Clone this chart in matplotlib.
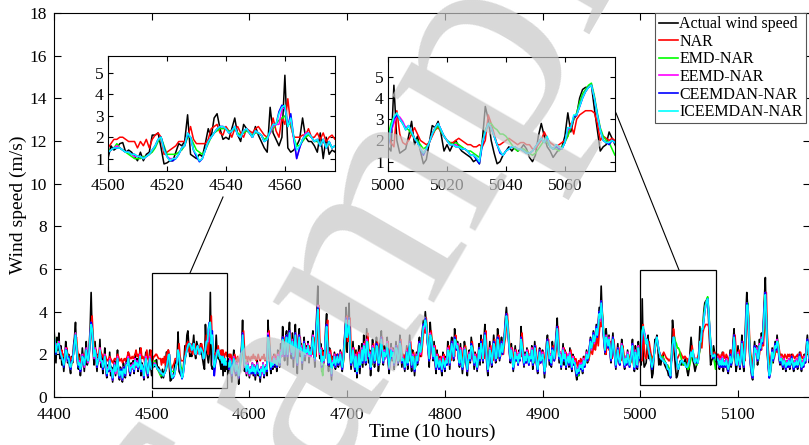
import matplotlib
matplotlib.use("Agg")
import matplotlib.pyplot as plt
import numpy as np
from matplotlib.patches import Rectangle
from matplotlib.lines import Line2D

plt.rcParams["font.family"] = ["Liberation Serif", "DejaVu Serif"]

W, H = 809, 445
START = 4400

# Wind speed (m/s), one value per 10-hour step from t = 4400
actual_speed = [
    3.2, 2.4, 1.6, 2.8, 2.2, 3.0, 1.8, 2.4, 1.5, 2.0, 1.2, 1.8, 2.6, 2.2, 1.6, 2.0, 1.4, 1.1, 1.9, 1.6,
    2.4, 2.8, 3.5, 2.2, 1.6, 1.3, 2.0, 1.0, 1.6, 2.3, 1.8, 1.2, 2.0, 2.6, 1.5, 1.7, 2.4, 3.2, 4.9, 3.0,
    2.2, 1.5, 2.6, 1.8, 1.2, 2.0, 1.7, 2.7, 1.4, 1.9, 1.1, 1.6, 2.3, 1.3, 0.9, 1.5, 1.2, 2.1, 1.0, 1.4,
    0.7, 1.3, 1.7, 1.0, 1.5, 2.2, 1.1, 0.8, 1.4, 1.2, 0.7, 1.6, 1.3, 0.9, 1.8, 1.5, 2.1, 1.2, 1.0, 1.6,
    1.3, 1.7, 1.1, 2.0, 1.4, 1.8, 1.2, 1.5, 2.3, 1.0, 1.6, 1.3, 0.8, 1.7, 2.1, 1.2, 0.9, 1.5, 2.2, 1.4,
    1.0, 1.6, 1.4, 1.5, 1.7, 1.75, 1.3, 1.4, 1.3, 1.1, 0.9, 1.3, 0.9, 1.2, 1.3, 2.1, 2.1, 2.2, 1.5, 0.75,
    0.8, 0.9, 0.9, 1.3, 1.7, 1.6, 1.8, 3.05, 1.2, 1.1, 1.0, 1.2, 1.1, 1.7, 2.4, 2.0, 2.9, 3.1, 2.4, 1.9,
    2.0, 1.9, 2.4, 2.9, 2.1, 1.8, 2.6, 2.4, 2.2, 2.0, 2.5, 2.1, 1.8, 1.5, 1.3, 3.4, 2.2, 1.9, 1.6, 2.0,
    4.9, 1.5, 1.3, 1.4, 1.6, 1.9, 2.9, 2.0, 1.8, 1.8, 1.6, 1.3, 2.2, 1.0, 2.0, 1.2, 1.4, 1.3,
    1.8, 1.1, 2.0, 1.4, 0.7, 1.6, 2.2, 1.3, 1.0, 1.7, 1.2, 0.6, 1.5, 1.9, 2.4, 3.6, 1.8, 1.2, 1.5, 1.0, 1.7, 1.3,
    0.9, 1.4, 1.1, 1.6, 1.0, 1.5, 0.8, 1.3, 1.7, 1.0, 1.2, 0.7, 1.4, 1.1, 1.6, 0.9, 1.3, 1.5, 1.0, 3.6,
    2.4, 1.5, 1.1, 1.7, 1.3, 2.0, 1.4, 1.8, 1.2, 2.2, 1.6, 1.4, 2.5, 1.9, 3.3, 2.4, 1.7, 2.8, 3.1, 1.5,
    2.9, 3.5, 2.2, 1.8, 3.0, 1.4, 2.6, 3.4, 2.0, 1.1, 2.7, 3.2, 1.9, 2.5, 1.3, 2.2, 2.8, 1.7, 2.4, 2.0,
    2.6, 1.6, 2.3, 1.9, 2.7, 3.1, 2.1, 1.4, 3.0, 4.0, 5.2, 2.6, 1.8, 2.5, 1.2, 2.2, 1.6, 2.0, 3.2, 3.9,
    1.8, 1.2, 2.3, 1.6, 0.8, 1.9, 1.5, 2.1, 1.3, 1.8, 2.0, 1.4, 1.7, 2.2, 1.5, 1.2, 1.9, 2.6, 3.2, 4.2,
    2.1, 3.5, 4.4, 2.0, 1.3, 1.8, 2.6, 1.6, 1.2, 2.2, 0.9, 1.6, 2.4, 1.1, 1.8, 2.5, 1.4, 2.9, 2.0, 1.5,
    3.2, 2.4, 1.6, 2.2, 1.0, 1.8, 2.7, 2.2, 1.4, 1.9, 2.8, 2.3, 1.2, 1.7, 2.6, 3.1, 2.0, 1.5, 2.4, 1.8,
    2.2, 2.8, 1.6, 1.1, 2.0, 2.5, 1.7, 2.3, 1.3, 1.9, 2.6, 2.1, 1.5, 1.8, 2.9, 2.2, 1.4, 2.0, 1.6, 1.2,
    1.8, 2.4, 1.3, 2.0, 2.9, 1.7, 1.2, 2.2, 1.8, 1.0, 1.6, 2.1, 1.5, 2.4, 2.8, 1.9, 2.5, 3.1, 3.6, 3.3,
    4.0, 3.4, 2.6, 2.2, 1.4, 3.5, 2.8, 2.3, 1.7, 2.6, 1.6, 1.1, 2.2, 1.5, 1.3, 1.9, 1.4, 1.0, 2.1, 1.6,
    1.2, 1.9, 1.5, 2.6, 2.1, 1.3, 2.4, 2.8, 2.2, 1.7, 3.2, 2.7, 2.3, 2.6, 1.8, 1.4, 2.5, 1.7, 1.1, 1.8,
    2.6, 2.3, 1.5, 1.0, 1.9, 2.2, 1.6, 2.8, 2.4, 2.0, 1.3, 2.1, 1.7, 1.2, 1.8, 2.5, 1.5, 2.9, 2.1, 1.6,
    2.7, 3.4, 2.3, 1.5, 1.0, 1.8, 2.6, 1.9, 1.4, 2.2, 2.9, 2.4, 1.6, 2.0, 3.2, 2.5, 1.7, 2.3, 2.8, 2.0,
    2.6, 3.0, 3.7, 4.2, 3.5, 2.8, 2.1, 1.6, 2.5, 1.9, 1.2, 1.8, 2.4, 1.7, 2.0, 1.5, 2.2, 1.8, 3.3, 2.4,
    1.9, 1.4, 2.1, 1.6, 2.3, 1.8, 1.5, 2.0, 1.7, 2.4, 1.3, 1.8, 2.6, 2.0, 1.5, 1.1, 1.9, 2.3, 1.6, 1.8,
    2.2, 1.6, 0.9, 1.7, 2.5, 2.9, 2.2, 1.5, 2.0, 1.4, 2.6, 2.1, 1.7, 2.4, 3.0, 3.7, 2.3, 1.6, 2.1, 1.3,
    1.9, 2.5, 1.5, 2.2, 1.3, 1.8, 2.0, 1.4, 2.3, 1.6, 1.2, 2.0, 1.5, 1.7, 1.1, 0.8, 1.4, 1.0, 1.6, 1.3,
    1.5, 1.1, 1.9, 1.4, 1.7, 2.2, 1.6, 1.9, 2.3, 2.8, 2.2, 2.6, 3.1, 2.4, 2.9, 3.4, 2.7, 3.5, 4.2, 3.6,
    5.2, 3.8, 3.0, 2.5, 2.0, 3.2, 2.7, 2.3, 2.9, 2.1, 1.6, 2.4, 3.0, 2.2, 1.8, 1.3, 1.9, 2.5, 1.7, 1.5,
    2.0, 2.7, 2.3, 1.6, 1.3, 1.9, 1.5, 2.2, 1.8, 1.4, 1.7, 2.1, 2.7, 1.6, 1.2, 2.4, 1.9, 1.3, 2.6, 2.0,
    1.7, 1.5, 4.6, 2.0, 1.4, 1.5, 1.6, 2.2, 2.9, 1.8, 2.2, 1.5, 0.9, 1.1, 1.9, 2.7, 2.6, 2.9, 2.3, 1.5,
    1.8, 1.5, 1.8, 2.0, 1.7, 1.5, 1.4, 1.3, 1.2, 1.0, 1.1, 0.9, 2.0, 3.6, 3.0, 2.0, 1.4, 0.9, 1.0, 1.3,
    1.5, 1.7, 1.5, 1.7, 1.5, 1.6, 1.8, 1.6, 1.2, 1.0, 1.3, 2.2, 2.8, 2.2, 1.7, 1.5, 1.2, 1.4, 1.6, 1.7,
    2.2, 3.3, 2.4, 3.0, 3.2, 4.0, 4.4, 4.5, 4.5, 4.6, 3.5, 2.5, 1.5, 1.7, 1.8, 2.4, 2.1, 1.8,
    1.5, 2.0, 1.6, 1.3, 1.8, 1.4, 2.1, 1.2, 1.7, 1.5, 1.9, 1.3, 1.1, 1.6, 2.2, 1.4, 1.8, 2.6, 3.2, 1.9, 1.2, 1.5,
    2.4, 1.7, 1.3, 2.0, 2.9, 1.6, 1.2, 2.5, 3.8, 4.9, 4.2, 2.8, 1.9, 1.4, 1.0, 0.8, 2.0, 2.6, 2.1, 2.4,
    1.5, 1.9, 2.7, 2.2, 3.0, 2.5, 3.6, 4.6, 5.6, 3.2, 2.0, 1.4, 0.9, 1.2, 1.8, 2.3, 1.6, 2.1, 2.6, 2.2,
    2.9, 2.4, 1.8, 1.5, 2.0, 1.6, 1.3, 1.9, 1.5, 1.2, 1.7, 1.4, 1.8, 1.3, 1.6, 2.0, 1.5, 1.2, 1.7, 1.4,
    1.8, 1.3, 1.6, 2.1, 1.5, 1.2, 1.7, 1.4, 2.0, 1.6, 2.4, 2.9, 2.2, 1.6, 1.9, 1.5,
]

nar = [
    2.7, 2.6, 2.2, 2.3, 2.5, 2.4, 2.3, 2.1, 2.2, 1.9, 2.0, 1.8, 2.1, 2.3, 2.0, 1.9, 1.9, 1.7, 1.8, 1.9,
    2.0, 2.3, 2.7, 2.8, 2.2, 1.9, 1.8, 1.7, 1.6, 1.9, 2.0, 1.8, 1.9, 2.2, 2.1, 1.9, 2.1, 2.6, 3.3, 3.8,
    2.9, 2.3, 2.3, 2.2, 1.9, 1.9, 2.0, 2.3, 2.1, 2.0, 1.9, 1.8, 2.0, 1.9, 1.7, 1.7, 1.8, 1.9, 1.8, 1.7,
    1.6, 1.7, 1.8, 1.8, 1.7, 2.0, 1.9, 1.7, 1.7, 1.8, 1.6, 1.7, 1.8, 1.7, 1.8, 1.9, 2.1, 2.0, 1.8, 1.8,
    1.9, 1.8, 1.9, 2.0, 2.2, 1.9, 2.0, 1.8, 2.1, 2.3, 1.8, 1.9, 1.8, 1.6, 1.9, 2.2, 1.8, 1.7, 1.9, 2.2,
    1.5, 1.7, 1.9, 1.9, 2.0, 2.0, 1.9, 1.8, 1.8, 1.8, 1.5, 1.8, 1.6, 1.9, 1.5, 1.9, 2.1, 2.2, 2.0, 1.2,
    1.3, 1.4, 1.5, 1.6, 1.8, 1.8, 1.8, 2.0, 2.5, 1.9, 1.7, 1.7, 1.7, 1.7, 1.9, 2.4, 2.5, 2.6, 2.2, 2.1,
    2.5, 2.3, 2.0, 2.4, 2.5, 2.2, 2.0, 2.4, 2.3, 2.2, 2.4, 2.5, 2.3, 2.1, 2.0, 2.2, 2.9, 2.3, 2.0, 2.9,
    2.6, 3.8, 2.5, 2.0, 2.0, 2.0, 2.1, 2.1, 2.4, 2.0, 2.0, 2.2, 1.9, 2.2, 1.8, 2.0, 2.1, 1.9,
    1.9, 2.0, 1.8, 2.0, 1.8, 1.6, 1.8, 2.0, 1.8, 1.7, 1.9, 1.7, 1.6, 1.8, 2.0, 2.3, 3.1, 2.2, 1.8, 1.9, 1.7, 1.9,
    1.8, 1.7, 1.9, 1.8, 2.0, 1.8, 1.9, 1.7, 1.8, 2.0, 1.8, 1.7, 1.8, 1.9, 1.8, 2.0, 1.7, 1.8, 1.9, 1.8,
    3.1, 2.3, 1.8, 1.7, 1.9, 1.8, 2.0, 1.8, 1.9, 1.8, 2.1, 1.8, 1.9, 2.3, 2.2, 2.8, 2.3, 2.1, 2.6, 2.8,
    2.1, 2.7, 3.0, 2.3, 2.1, 2.6, 1.9, 2.3, 2.9, 2.2, 1.8, 2.4, 2.8, 2.1, 2.3, 1.8, 2.1, 2.5, 2.0, 2.3,
    2.1, 2.4, 1.9, 2.2, 2.0, 2.4, 2.8, 2.1, 1.9, 2.7, 3.8, 4.3, 2.6, 2.1, 2.3, 1.7, 2.1, 1.8, 2.1, 3.0,
    3.6, 2.1, 1.7, 2.2, 1.8, 1.5, 1.9, 1.8, 2.0, 1.8, 1.9, 2.0, 1.8, 1.9, 2.1, 1.8, 1.6, 2.0, 2.5, 3.0,
    3.8, 2.6, 3.4, 3.7, 2.2, 1.8, 1.9, 2.3, 1.8, 1.7, 2.1, 1.5, 1.8, 2.2, 1.6, 1.9, 2.3, 1.8, 2.6, 2.0,
    1.8, 3.0, 2.3, 1.9, 2.1, 1.5, 1.9, 2.5, 2.0, 1.7, 2.0, 2.6, 2.1, 1.6, 1.9, 2.5, 2.8, 2.0, 1.8, 2.2,
    1.9, 2.1, 2.6, 1.8, 1.6, 2.0, 2.3, 1.8, 2.1, 1.7, 2.0, 2.4, 2.0, 1.7, 1.9, 2.7, 2.0, 1.7, 2.0, 1.8,
    1.6, 1.9, 2.3, 1.7, 2.0, 2.6, 1.8, 1.6, 2.1, 1.8, 1.5, 1.8, 2.0, 1.7, 2.3, 2.6, 1.9, 2.4, 2.9, 3.3,
    3.0, 3.7, 3.1, 2.5, 2.1, 1.8, 3.1, 2.6, 2.1, 1.9, 2.4, 1.8, 1.6, 2.0, 1.7, 1.6, 1.9, 1.6, 1.5, 2.0,
    1.7, 1.6, 1.9, 1.7, 2.4, 2.0, 1.7, 2.3, 2.6, 2.0, 1.9, 2.9, 2.5, 2.2, 2.4, 1.9, 1.7, 2.3, 1.8, 1.6,
    1.9, 2.4, 2.1, 1.7, 1.5, 1.9, 2.1, 1.8, 2.6, 2.2, 2.0, 1.7, 2.0, 1.8, 1.6, 1.9, 2.3, 1.8, 2.7, 2.0,
    1.8, 2.5, 3.1, 2.2, 1.7, 1.5, 1.9, 2.4, 1.9, 1.7, 2.1, 2.7, 2.2, 1.8, 2.0, 2.9, 2.3, 1.9, 2.2, 2.6,
    2.0, 2.5, 2.8, 3.4, 3.9, 3.2, 2.6, 2.1, 1.8, 2.3, 1.9, 1.6, 1.8, 2.2, 1.8, 1.9, 1.7, 2.1, 1.9, 3.0,
    2.3, 1.9, 1.7, 2.0, 1.8, 2.2, 1.8, 1.7, 2.0, 1.8, 2.3, 1.6, 1.8, 2.4, 1.9, 1.7, 1.5, 1.9, 2.2, 1.7,
    1.9, 2.1, 1.7, 1.4, 1.8, 2.4, 2.7, 2.1, 1.8, 2.0, 1.7, 2.4, 2.0, 1.8, 2.3, 2.8, 3.3, 2.2, 1.8, 2.0,
    1.6, 1.9, 2.3, 1.7, 2.1, 1.6, 1.9, 1.9, 1.7, 2.2, 1.7, 1.6, 1.9, 1.7, 1.8, 1.6, 1.4, 1.7, 1.5, 1.8,
    1.6, 1.7, 1.5, 1.9, 1.6, 1.8, 2.1, 1.7, 1.9, 2.2, 2.1, 2.0, 2.3, 2.8, 2.2, 2.5, 3.0, 2.4, 3.0, 3.5,
    3.3, 4.1, 3.4, 2.8, 2.3, 2.0, 2.8, 2.5, 2.2, 2.6, 2.0, 1.8, 2.2, 2.7, 2.1, 1.8, 1.7, 1.9, 2.3, 1.8,
    1.7, 1.9, 2.4, 2.1, 1.7, 1.6, 1.9, 1.7, 2.0, 1.8, 1.6, 1.8, 2.0, 2.4, 1.7, 1.6, 2.1, 1.8, 1.6, 2.4,
    2.4, 1.9, 1.7, 3.4, 2.3, 1.9, 1.8, 2.0, 2.3, 2.6, 2.3, 2.0, 1.9, 1.8, 1.9, 2.2, 2.5, 2.6, 2.4, 2.2,
    2.0, 1.9, 1.9, 2.0, 2.1, 2.0, 1.9, 1.8, 1.8, 1.7, 1.7, 1.8, 1.7, 2.0, 3.2, 2.8, 2.3, 1.8, 1.8, 1.9,
    2.0, 2.1, 2.0, 1.9, 1.8, 1.9, 1.9, 1.8, 1.8, 1.6, 1.6, 1.8, 2.0, 2.4, 2.1, 1.9, 1.8, 1.7, 1.8, 1.9,
    2.0, 2.2, 2.8, 2.3, 3.0, 3.2, 3.3, 3.4, 3.4, 3.4, 3.3, 2.8, 2.0, 2.2, 2.1, 2.0, 2.1, 2.0,
    1.9, 1.8, 2.0, 1.9, 1.8, 2.0, 1.8, 2.1, 1.9, 1.8, 2.0, 1.9, 1.8, 1.7, 1.9, 2.2, 1.8, 2.0, 2.4, 2.9, 2.2, 1.8,
    1.9, 2.2, 1.9, 1.8, 2.0, 2.6, 1.9, 1.7, 2.3, 3.3, 4.3, 3.8, 2.6, 2.0, 1.8, 1.6, 1.5, 2.0, 2.4, 2.1,
    2.2, 1.8, 2.0, 2.5, 2.2, 2.7, 2.4, 3.2, 4.1, 4.9, 3.0, 2.2, 1.8, 1.5, 1.6, 1.9, 2.2, 1.8, 2.0, 2.4,
    2.1, 2.6, 2.3, 2.0, 1.9, 2.0, 1.9, 1.8, 2.0, 1.9, 1.8, 2.0, 1.9, 2.0, 1.8, 1.9, 2.0, 1.9, 1.8, 1.9,
    1.9, 2.0, 1.8, 1.9, 2.1, 1.9, 1.8, 1.9, 1.8, 2.0, 1.9, 2.2, 2.4, 2.0, 1.9, 1.8,
]

emd_nar = [
    2.9, 2.6, 2.0, 2.3, 2.6, 2.4, 2.1, 2.1, 1.8, 1.7, 1.6, 1.7, 2.1, 2.2, 1.9, 1.7, 1.6, 1.3, 1.5, 1.8,
    2.1, 2.4, 3.0, 2.5, 1.9, 1.4, 1.5, 1.4, 1.4, 1.8, 1.9, 1.6, 1.7, 2.1, 1.9, 1.6, 2.0, 2.7, 3.3, 3.3,
    2.6, 2.0, 2.1, 2.0, 1.6, 1.6, 1.9, 2.1, 1.8, 1.6, 1.5, 1.4, 1.8, 1.6, 1.2, 1.2, 1.4, 1.6, 1.4, 1.2,
    1.0, 1.1, 1.4, 1.3, 1.3, 1.7, 1.4, 1.1, 1.1, 1.3, 1.0, 1.2, 1.4, 1.1, 1.4, 1.6, 1.7, 1.5, 1.2, 1.3,
    1.5, 1.4, 1.4, 1.6, 1.6, 1.5, 1.5, 1.4, 1.8, 1.4, 1.4, 1.4, 1.1, 1.4, 1.7, 1.5, 1.2, 1.3, 1.7, 1.6,
    1.4, 1.4, 1.5, 1.7, 1.5, 1.4, 1.3, 1.2, 1.1, 1.0, 1.0, 1.0, 1.1, 1.1, 1.2, 1.3, 1.5, 1.8, 2.0, 1.6,
    1.2, 1.2, 1.2, 1.2, 1.3, 1.4, 1.6, 2.0, 2.0, 1.7, 1.4, 1.3, 1.2, 1.4, 1.7, 2.0, 2.2, 2.3, 2.4, 2.4,
    2.4, 2.3, 2.3, 2.4, 2.2, 2.1, 2.2, 2.3, 2.2, 2.1, 2.2, 2.2, 2.1, 1.9, 2.0, 2.2, 2.4, 2.6, 2.8, 2.9,
    3.0, 2.6, 2.6, 2.0, 1.6, 1.6, 1.8, 2.0, 2.1, 2.0, 1.8, 1.8, 1.7, 1.8, 1.6, 1.7, 1.5, 1.6,
    1.5, 1.5, 1.6, 1.5, 1.2, 1.3, 1.7, 1.6, 1.3, 1.4, 1.4, 1.1, 1.2, 1.6, 2.0, 2.7, 2.4, 1.7, 1.4, 1.3, 1.4, 1.4,
    1.2, 1.2, 1.2, 1.4, 1.3, 1.3, 1.2, 1.2, 1.4, 1.3, 1.1, 1.0, 1.2, 1.3, 1.4, 1.2, 1.2, 1.4, 1.3, 2.5,
    2.7, 2.1, 1.3, 1.5, 1.6, 1.7, 1.7, 1.6, 1.5, 1.8, 1.8, 1.5, 2.0, 2.1, 2.5, 2.6, 2.1, 2.3, 2.8, 2.2,
    2.3, 2.9, 2.7, 2.2, 2.4, 2.1, 2.1, 2.7, 2.5, 1.7, 2.1, 2.7, 2.4, 2.2, 1.8, 1.9, 2.4, 2.2, 2.1, 2.2,
    2.3, 2.1, 2.0, 2.1, 2.3, 2.7, 2.5, 1.9, 2.4, 3.3, 4.2, 3.3, 2.2, 2.0, 1.3, 1.0, 1.6, 1.9, 2.6, 3.3,
    2.5, 1.8, 1.8, 1.8, 1.2, 1.4, 1.6, 1.8, 1.6, 1.6, 1.9, 1.7, 1.6, 1.9, 1.8, 1.4, 1.6, 2.1, 2.8, 3.5,
    3.0, 3.0, 3.5, 2.7, 1.8, 1.6, 2.1, 1.9, 1.5, 1.8, 1.3, 1.3, 1.9, 1.6, 1.5, 2.1, 1.8, 2.3, 2.3, 1.8,
    2.5, 2.6, 2.0, 1.9, 1.5, 1.5, 2.2, 2.3, 1.8, 1.7, 2.3, 2.4, 1.7, 1.5, 2.1, 2.6, 2.3, 1.8, 2.0, 2.0,
    1.9, 2.4, 2.0, 1.5, 1.7, 2.1, 2.0, 2.0, 1.7, 1.7, 2.2, 2.3, 1.8, 1.7, 2.4, 2.4, 1.8, 1.7, 1.8, 1.5,
    1.5, 2.0, 1.7, 1.7, 2.4, 2.1, 1.6, 1.8, 1.9, 1.4, 1.4, 1.8, 1.8, 2.0, 2.4, 2.2, 2.2, 2.7, 3.2, 3.4,
    3.7, 3.5, 2.9, 2.4, 1.9, 2.7, 2.9, 2.5, 2.0, 2.2, 1.9, 1.5, 1.8, 1.7, 1.4, 1.6, 1.6, 1.4, 1.7, 1.7,
    1.5, 1.6, 1.7, 2.1, 2.2, 1.7, 2.0, 2.4, 2.3, 2.0, 2.6, 2.7, 2.4, 2.3, 2.0, 1.7, 2.1, 1.9, 1.5, 1.5,
    2.1, 2.3, 1.8, 1.4, 1.6, 1.9, 1.9, 2.3, 2.4, 2.1, 1.7, 1.8, 1.8, 1.5, 1.6, 2.1, 1.9, 2.4, 2.3, 1.9,
    2.3, 2.8, 2.5, 1.9, 1.4, 1.5, 2.1, 2.1, 1.7, 1.9, 2.4, 2.4, 1.9, 1.8, 2.6, 2.5, 2.0, 2.0, 2.4, 2.2,
    2.3, 2.7, 3.2, 3.7, 3.6, 3.0, 2.4, 1.9, 2.1, 2.0, 1.5, 1.5, 2.0, 1.9, 1.8, 1.7, 1.9, 1.9, 2.6, 2.5,
    2.1, 1.7, 1.8, 1.8, 2.0, 2.0, 1.7, 1.8, 1.9, 2.1, 1.7, 1.6, 2.2, 2.1, 1.7, 1.4, 1.6, 2.0, 1.8, 1.7,
    2.0, 1.8, 1.3, 1.4, 2.1, 2.5, 2.4, 1.9, 1.8, 1.7, 2.1, 2.2, 1.9, 2.1, 2.6, 3.1, 2.7, 2.0, 1.9, 1.6,
    1.6, 2.1, 1.9, 1.9, 1.6, 1.6, 1.9, 1.7, 1.9, 1.8, 1.5, 1.7, 1.7, 1.5, 1.3, 1.0, 1.1, 1.0, 1.3, 1.4,
    1.4, 1.2, 1.5, 1.6, 1.6, 1.9, 1.9, 1.8, 2.1, 2.5, 2.4, 2.4, 2.8, 2.7, 2.7, 3.1, 3.0, 3.2, 3.8, 3.8,
    4.3, 4.0, 3.3, 2.8, 2.3, 2.6, 2.8, 2.5, 2.6, 2.4, 1.9, 2.1, 2.6, 2.4, 2.0, 1.6, 1.7, 2.1, 1.9, 1.6,
    1.8, 2.3, 2.3, 1.9, 1.6, 1.7, 1.7, 1.9, 1.9, 1.6, 1.6, 1.9, 2.3, 1.9, 1.5, 1.9, 2.0, 1.6, 2.1, 2.1,
    2.2, 2.8, 3.1, 3.2, 3.0, 2.8, 2.6, 2.5, 2.3, 2.1, 2.0, 1.8, 1.6, 1.7, 1.9, 2.3, 2.5, 2.7, 2.4, 2.2,
    2.0, 1.9, 1.8, 1.9, 1.8, 1.7, 1.6, 1.5, 1.5, 1.4, 1.3, 1.2, 1.9, 2.5, 2.8, 2.8, 2.6, 2.5, 2.3, 2.3,
    2.2, 2.0, 1.8, 1.6, 1.5, 1.6, 1.6, 1.5, 1.4, 1.3, 1.4, 1.6, 1.8, 2.0, 1.9, 1.7, 1.6, 1.6, 1.5, 1.7,
    1.9, 2.2, 2.6, 3.0, 3.3, 3.8, 4.2, 4.4, 4.6, 4.7, 4.1, 3.3, 2.6, 2.2, 2.0, 1.9, 1.6, 1.3,
    1.6, 1.6, 1.7, 1.6, 1.6, 1.6, 1.7, 1.6, 1.5, 1.6, 1.6, 1.6, 1.4, 1.4, 1.8, 1.7, 1.6, 2.0, 2.7, 2.4, 1.8, 1.5,
    1.8, 1.9, 1.6, 1.7, 2.3, 2.1, 1.6, 1.9, 3.0, 4.1, 4.4, 3.4, 2.4, 1.8, 1.3, 1.0, 1.4, 2.1, 2.2, 2.1,
    1.9, 1.7, 2.2, 2.4, 2.5, 2.7, 3.0, 3.9, 4.7, 3.9, 2.6, 1.8, 1.2, 1.1, 1.4, 1.9, 1.9, 1.9, 2.2, 2.4,
    2.5, 2.6, 2.1, 1.8, 1.7, 1.8, 1.6, 1.6, 1.7, 1.5, 1.5, 1.6, 1.6, 1.6, 1.5, 1.7, 1.7, 1.5, 1.5, 1.6,
    1.6, 1.6, 1.5, 1.8, 1.8, 1.5, 1.5, 1.6, 1.7, 1.8, 2.0, 2.5, 2.5, 1.9, 1.7, 1.7,
]

eemd_nar = [
    2.9, 2.4, 2.1, 2.5, 2.4, 2.6, 2.2, 2.1, 1.8, 1.7, 1.5, 1.7, 2.3, 2.1, 1.7, 1.8, 1.6, 1.3, 1.6, 1.8,
    2.1, 2.5, 3.0, 2.3, 1.7, 1.5, 1.7, 1.2, 1.5, 2.0, 1.8, 1.4, 1.8, 2.3, 1.8, 1.6, 2.2, 2.9, 3.5, 3.1,
    2.4, 1.8, 2.3, 1.9, 1.4, 1.8, 1.7, 2.3, 1.6, 1.7, 1.3, 1.5, 2.0, 1.4, 1.0, 1.4, 1.2, 1.8, 1.2, 1.3,
    0.8, 1.2, 1.6, 1.1, 1.4, 1.9, 1.2, 0.9, 1.3, 1.2, 0.8, 1.4, 1.2, 1.0, 1.6, 1.5, 1.9, 1.3, 1.1, 1.5,
    1.3, 1.6, 1.2, 1.8, 1.4, 1.7, 1.3, 1.5, 2.0, 1.2, 1.5, 1.3, 0.9, 1.6, 1.9, 1.3, 1.0, 1.5, 1.9, 1.4,
    1.3, 1.4, 1.5, 1.6, 1.5, 1.4, 1.3, 1.3, 1.2, 1.1, 1.1, 1.1, 1.0, 1.1, 1.2, 1.4, 1.6, 1.9, 2.0, 1.4,
    1.1, 1.0, 1.0, 1.0, 1.2, 1.5, 1.6, 2.2, 2.0, 1.4, 1.1, 0.9, 1.0, 1.4, 1.8, 2.0, 2.2, 2.4, 2.5, 2.5,
    2.4, 2.2, 2.3, 2.5, 2.1, 2.0, 2.3, 2.4, 2.2, 2.0, 2.3, 2.2, 2.1, 1.8, 1.9, 2.2, 2.5, 2.6, 2.6, 3.3,
    3.4, 2.6, 2.8, 1.9, 1.0, 1.5, 1.9, 2.2, 2.2, 2.0, 1.8, 1.9, 1.6, 1.9, 1.5, 1.8, 1.5, 1.6,
    1.6, 1.3, 1.8, 1.5, 1.0, 1.5, 1.9, 1.4, 1.1, 1.6, 1.3, 0.9, 1.4, 1.8, 2.2, 3.0, 2.1, 1.4, 1.6, 1.1, 1.6, 1.4,
    1.0, 1.4, 1.2, 1.6, 1.1, 1.5, 1.0, 1.3, 1.6, 1.1, 1.2, 0.9, 1.4, 1.1, 1.6, 1.0, 1.3, 1.5, 1.2, 3.0,
    2.7, 1.8, 1.3, 1.7, 1.4, 1.9, 1.5, 1.8, 1.4, 2.0, 1.7, 1.5, 2.2, 1.9, 2.8, 2.4, 1.9, 2.6, 2.9, 1.9,
    2.6, 3.1, 2.4, 2.0, 2.7, 1.8, 2.4, 3.0, 2.2, 1.5, 2.4, 2.9, 2.1, 2.4, 1.6, 2.1, 2.6, 1.9, 2.3, 2.0,
    2.5, 1.9, 2.2, 1.9, 2.5, 2.9, 2.2, 1.7, 2.7, 3.6, 4.3, 2.9, 2.0, 2.3, 1.4, 1.9, 1.6, 2.0, 2.9, 3.4,
    2.2, 1.5, 2.1, 1.6, 1.0, 1.7, 1.5, 2.0, 1.4, 1.8, 1.9, 1.5, 1.8, 2.1, 1.6, 1.3, 1.8, 2.4, 3.0, 3.7,
    2.9, 3.2, 3.7, 2.4, 1.5, 1.8, 2.3, 1.7, 1.3, 2.0, 1.1, 1.5, 2.1, 1.4, 1.7, 2.3, 1.6, 2.5, 2.1, 1.6,
    2.7, 2.4, 1.8, 2.1, 1.3, 1.7, 2.4, 2.1, 1.6, 1.9, 2.5, 2.2, 1.5, 1.7, 2.3, 2.8, 2.1, 1.6, 2.2, 1.8,
    2.1, 2.6, 1.8, 1.3, 1.9, 2.3, 1.8, 2.2, 1.5, 1.9, 2.4, 2.1, 1.6, 1.9, 2.6, 2.2, 1.6, 1.9, 1.6, 1.3,
    1.7, 2.2, 1.5, 1.9, 2.6, 1.9, 1.4, 2.0, 1.7, 1.2, 1.6, 2.0, 1.6, 2.2, 2.6, 2.0, 2.4, 2.9, 3.4, 3.2,
    3.7, 3.3, 2.7, 2.2, 1.7, 3.0, 2.7, 2.3, 1.8, 2.4, 1.7, 1.3, 2.0, 1.5, 1.3, 1.8, 1.4, 1.2, 1.9, 1.5,
    1.3, 1.8, 1.5, 2.3, 2.0, 1.5, 2.2, 2.6, 2.1, 1.8, 2.8, 2.5, 2.2, 2.5, 1.8, 1.5, 2.3, 1.7, 1.3, 1.7,
    2.3, 2.1, 1.6, 1.2, 1.8, 2.1, 1.7, 2.5, 2.2, 1.9, 1.5, 2.0, 1.6, 1.3, 1.8, 2.3, 1.7, 2.6, 2.1, 1.7,
    2.5, 3.0, 2.3, 1.7, 1.2, 1.7, 2.3, 1.9, 1.5, 2.1, 2.6, 2.2, 1.7, 2.0, 2.8, 2.3, 1.8, 2.2, 2.6, 2.0,
    2.5, 2.9, 3.4, 3.9, 3.4, 2.8, 2.2, 1.7, 2.3, 1.8, 1.3, 1.7, 2.2, 1.7, 2.0, 1.5, 2.1, 1.7, 2.8, 2.3,
    1.9, 1.5, 2.0, 1.6, 2.2, 1.8, 1.5, 2.0, 1.7, 2.3, 1.5, 1.8, 2.4, 1.9, 1.5, 1.2, 1.8, 2.2, 1.6, 1.9,
    2.1, 1.6, 1.1, 1.6, 2.3, 2.7, 2.2, 1.7, 2.0, 1.5, 2.3, 2.0, 1.7, 2.3, 2.8, 3.3, 2.5, 1.8, 2.1, 1.4,
    1.8, 2.3, 1.7, 2.1, 1.4, 1.8, 2.0, 1.5, 2.1, 1.6, 1.3, 1.9, 1.5, 1.7, 1.2, 1.0, 1.4, 1.1, 1.6, 1.3,
    1.6, 1.2, 1.8, 1.4, 1.8, 2.1, 1.7, 2.0, 2.3, 2.7, 2.2, 2.6, 3.0, 2.5, 2.9, 3.3, 2.8, 3.4, 4.0, 3.6,
    4.5, 3.8, 3.1, 2.6, 2.1, 2.9, 2.6, 2.3, 2.8, 2.2, 1.7, 2.3, 2.8, 2.2, 1.8, 1.4, 1.9, 2.3, 1.7, 1.5,
    2.0, 2.5, 2.1, 1.7, 1.4, 1.9, 1.5, 2.1, 1.7, 1.4, 1.8, 2.1, 2.5, 1.7, 1.3, 2.2, 1.8, 1.4, 2.4, 1.9,
    1.8, 2.4, 2.8, 3.2, 3.1, 2.9, 2.6, 2.7, 2.4, 2.1, 1.9, 1.6, 1.4, 1.6, 1.9, 2.3, 2.6, 2.8, 2.5, 2.2,
    2.0, 1.8, 1.8, 1.8, 1.7, 1.6, 1.6, 1.5, 1.3, 1.3, 1.2, 1.0, 1.9, 2.4, 2.8, 2.6, 2.2, 1.8, 1.5, 1.3,
    1.5, 1.6, 1.7, 1.7, 1.6, 1.6, 1.5, 1.4, 1.4, 1.5, 1.7, 1.9, 2.1, 1.9, 2.1, 1.7, 1.6, 1.8, 1.7, 1.6,
    1.9, 2.5, 2.6, 3.1, 3.2, 3.6, 4.0, 4.3, 4.5, 4.6, 4.0, 3.2, 2.5, 2.0, 1.9, 1.9, 2.0, 1.9,
    1.8, 1.9, 1.6, 1.4, 1.8, 1.4, 1.9, 1.4, 1.7, 1.4, 1.8, 1.4, 1.2, 1.6, 2.0, 1.5, 1.8, 2.3, 2.9, 2.2, 1.5, 1.6,
    2.1, 1.7, 1.4, 1.9, 2.6, 1.9, 1.4, 2.2, 3.3, 4.4, 4.2, 3.1, 2.1, 1.5, 1.1, 0.9, 1.7, 2.4, 2.0, 2.3,
    1.7, 1.9, 2.5, 2.2, 2.8, 2.5, 3.3, 4.2, 4.9, 3.6, 2.3, 1.5, 0.9, 1.2, 1.7, 2.2, 1.7, 2.1, 2.5, 2.2,
    2.7, 2.4, 1.9, 1.6, 1.9, 1.6, 1.4, 1.8, 1.5, 1.3, 1.7, 1.4, 1.8, 1.4, 1.7, 1.9, 1.5, 1.3, 1.7, 1.4,
    1.8, 1.4, 1.7, 2.0, 1.6, 1.3, 1.7, 1.4, 1.9, 1.6, 2.2, 2.7, 2.3, 1.7, 1.9, 1.5,
]

ceemdan_nar = [
    2.8, 2.5, 2.0, 2.4, 2.4, 2.5, 2.1, 2.0, 1.8, 1.8, 1.4, 1.8, 2.2, 2.2, 1.7, 1.9, 1.5, 1.3, 1.7, 1.7,
    2.1, 2.6, 2.9, 2.3, 1.8, 1.4, 1.6, 1.2, 1.4, 1.9, 1.9, 1.5, 1.7, 2.2, 1.9, 1.7, 2.0, 2.8, 3.5, 3.3,
    2.4, 1.9, 2.1, 2.0, 1.4, 1.7, 1.8, 2.1, 1.8, 1.6, 1.3, 1.5, 1.9, 1.6, 1.0, 1.3, 1.2, 1.7, 1.4, 1.2,
    0.8, 1.2, 1.5, 1.3, 1.3, 1.8, 1.4, 0.9, 1.2, 1.3, 0.8, 1.3, 1.4, 1.0, 1.5, 1.6, 1.8, 1.4, 1.1, 1.4,
    1.4, 1.5, 1.2, 1.7, 1.6, 1.6, 1.3, 1.6, 1.9, 1.2, 1.5, 1.4, 0.9, 1.5, 1.8, 1.4, 1.0, 1.4, 1.8, 1.6,
    1.3, 1.4, 1.5, 1.5, 1.5, 1.4, 1.3, 1.3, 1.2, 1.2, 1.1, 1.1, 1.0, 1.1, 1.2, 1.4, 1.6, 1.9, 2.0, 1.5,
    1.1, 0.9, 0.9, 1.0, 1.2, 1.5, 1.6, 2.1, 2.0, 1.4, 1.1, 0.85, 1.0, 1.4, 1.8, 2.0, 2.2, 2.4, 2.5, 2.5,
    2.4, 2.2, 2.3, 2.5, 2.1, 2.0, 2.3, 2.4, 2.2, 2.0, 2.3, 2.2, 2.1, 1.8, 1.9, 2.3, 2.6, 2.6, 3.2, 3.5,
    3.4, 2.5, 3.1, 2.0, 1.0, 1.5, 1.9, 2.1, 2.2, 2.0, 1.8, 1.9, 1.6, 1.9, 1.5, 1.8, 1.5, 1.6,
    1.7, 1.3, 1.7, 1.4, 1.0, 1.4, 1.8, 1.6, 1.1, 1.5, 1.2, 0.9, 1.3, 1.8, 2.1, 3.0, 2.3, 1.5, 1.4, 1.2, 1.5, 1.3,
    1.1, 1.3, 1.1, 1.5, 1.1, 1.4, 1.0, 1.4, 1.5, 1.1, 1.3, 0.9, 1.3, 1.2, 1.4, 1.0, 1.4, 1.4, 1.2, 2.9,
    2.6, 2.0, 1.3, 1.6, 1.4, 1.8, 1.5, 1.7, 1.4, 1.9, 1.8, 1.5, 2.1, 2.0, 2.8, 2.5, 1.9, 2.5, 2.9, 1.9,
    2.5, 3.1, 2.5, 2.0, 2.6, 1.8, 2.3, 3.0, 2.3, 1.5, 2.3, 2.9, 2.2, 2.3, 1.6, 2.0, 2.6, 1.9, 2.2, 2.1,
    2.4, 2.0, 2.1, 2.0, 2.4, 2.8, 2.2, 1.7, 2.6, 3.6, 4.2, 3.1, 2.1, 2.2, 1.4, 1.8, 1.7, 1.9, 2.8, 3.4,
    2.3, 1.5, 2.0, 1.7, 1.0, 1.6, 1.5, 1.9, 1.4, 1.7, 2.0, 1.5, 1.7, 2.0, 1.6, 1.3, 1.7, 2.3, 3.0, 3.7,
    2.8, 3.1, 3.7, 2.5, 1.5, 1.7, 2.2, 1.7, 1.3, 1.9, 1.1, 1.4, 2.0, 1.4, 1.6, 2.2, 1.6, 2.4, 2.2, 1.6,
    2.6, 2.5, 1.8, 2.0, 1.3, 1.6, 2.3, 2.2, 1.6, 1.8, 2.5, 2.3, 1.5, 1.6, 2.2, 2.8, 2.1, 1.6, 2.1, 1.9,
    2.0, 2.5, 1.8, 1.3, 1.8, 2.2, 1.8, 2.1, 1.5, 1.8, 2.4, 2.2, 1.6, 1.8, 2.6, 2.3, 1.6, 1.8, 1.7, 1.3,
    1.6, 2.1, 1.5, 1.8, 2.6, 2.0, 1.4, 1.9, 1.7, 1.2, 1.5, 1.9, 1.6, 2.1, 2.6, 2.1, 2.3, 2.9, 3.4, 3.4,
    3.7, 3.4, 2.8, 2.2, 1.7, 2.9, 2.8, 2.3, 1.8, 2.3, 1.7, 1.3, 1.9, 1.5, 1.3, 1.7, 1.4, 1.2, 1.8, 1.5,
    1.3, 1.7, 1.5, 2.2, 2.1, 1.5, 2.1, 2.6, 2.2, 1.8, 2.8, 2.6, 2.2, 2.4, 1.8, 1.5, 2.2, 1.7, 1.3, 1.6,
    2.2, 2.2, 1.6, 1.2, 1.7, 2.0, 1.7, 2.5, 2.3, 1.9, 1.5, 1.9, 1.6, 1.3, 1.7, 2.3, 1.7, 2.6, 2.2, 1.7,
    2.4, 3.0, 2.4, 1.7, 1.2, 1.6, 2.2, 1.9, 1.5, 2.0, 2.6, 2.3, 1.7, 1.9, 2.8, 2.4, 1.8, 2.1, 2.6, 2.0,
    2.4, 2.8, 3.4, 3.9, 3.5, 2.9, 2.2, 1.7, 2.2, 1.8, 1.3, 1.6, 2.1, 1.7, 1.9, 1.5, 2.0, 1.7, 2.8, 2.4,
    2.0, 1.5, 1.9, 1.6, 2.1, 1.8, 1.5, 1.9, 1.7, 2.2, 1.5, 1.7, 2.4, 2.0, 1.5, 1.2, 1.7, 2.2, 1.6, 1.8,
    2.0, 1.6, 1.1, 1.5, 2.2, 2.7, 2.3, 1.7, 1.9, 1.5, 2.3, 2.1, 1.7, 2.2, 2.8, 3.3, 2.6, 1.8, 2.0, 1.4,
    1.7, 2.2, 1.7, 2.0, 1.4, 1.7, 1.9, 1.5, 2.0, 1.6, 1.3, 1.8, 1.5, 1.6, 1.2, 1.0, 1.3, 1.1, 1.5, 1.3,
    1.5, 1.2, 1.7, 1.4, 1.7, 2.0, 1.7, 1.9, 2.3, 2.7, 2.3, 2.5, 3.0, 2.6, 2.8, 3.3, 2.8, 3.3, 4.0, 3.8,
    4.5, 3.9, 3.2, 2.6, 2.1, 2.8, 2.7, 2.3, 2.7, 2.2, 1.7, 2.2, 2.8, 2.3, 1.8, 1.4, 1.8, 2.3, 1.7, 1.5,
    1.9, 2.4, 2.2, 1.7, 1.4, 1.8, 1.5, 2.0, 1.7, 1.4, 1.7, 2.0, 2.5, 1.8, 1.3, 2.1, 1.9, 1.4, 2.3, 1.9,
    1.7, 2.5, 3.0, 3.2, 3.0, 2.8, 2.5, 2.7, 2.4, 2.1, 1.9, 1.6, 1.3, 1.6, 1.9, 2.3, 2.6, 2.8, 2.5, 2.2,
    2.0, 1.8, 1.8, 1.7, 1.7, 1.6, 1.6, 1.5, 1.3, 1.3, 1.1, 0.9, 1.8, 2.4, 2.8, 2.6, 2.2, 1.8, 1.4, 1.3,
    1.5, 1.6, 1.7, 1.7, 1.6, 1.6, 1.5, 1.4, 1.4, 1.5, 1.7, 1.9, 2.1, 1.9, 2.1, 1.7, 1.6, 1.7, 1.6, 1.6,
    1.9, 2.6, 2.6, 3.1, 3.2, 3.6, 4.0, 4.3, 4.5, 4.6, 4.0, 3.2, 2.5, 2.0, 1.9, 1.8, 2.0, 1.9,
    1.7, 1.8, 1.6, 1.4, 1.7, 1.4, 1.8, 1.4, 1.6, 1.4, 1.7, 1.4, 1.2, 1.5, 2.0, 1.5, 1.7, 2.3, 2.9, 2.3, 1.5, 1.5,
    2.0, 1.7, 1.4, 1.8, 2.6, 2.0, 1.4, 2.1, 3.3, 4.4, 4.3, 3.2, 2.1, 1.5, 1.1, 0.9, 1.6, 2.4, 2.1, 2.2,
    1.7, 1.8, 2.4, 2.2, 2.7, 2.5, 3.3, 4.2, 4.9, 3.8, 2.4, 1.5, 0.9, 1.1, 1.6, 2.2, 1.7, 2.0, 2.5, 2.2,
    2.6, 2.4, 1.9, 1.6, 1.8, 1.6, 1.4, 1.7, 1.5, 1.3, 1.6, 1.4, 1.7, 1.4, 1.6, 1.9, 1.5, 1.3, 1.6, 1.4,
    1.7, 1.4, 1.6, 2.0, 1.6, 1.3, 1.6, 1.4, 1.8, 1.6, 2.1, 2.7, 2.4, 1.7, 1.8, 1.5,
]

iceemdan_nar = [
    2.8, 2.5, 2.1, 2.4, 2.5, 2.5, 2.2, 2.0, 1.9, 1.7, 1.5, 1.8, 2.2, 2.1, 1.8, 1.8, 1.5, 1.4, 1.6, 1.7,
    2.0, 2.5, 2.9, 2.4, 1.8, 1.5, 1.6, 1.3, 1.5, 1.9, 1.8, 1.5, 1.8, 2.2, 1.8, 1.7, 2.1, 2.8, 3.4, 3.2,
    2.5, 1.9, 2.2, 1.9, 1.5, 1.7, 1.8, 2.2, 1.7, 1.7, 1.4, 1.5, 1.9, 1.5, 1.1, 1.3, 1.3, 1.7, 1.3, 1.3,
    0.9, 1.2, 1.5, 1.2, 1.4, 1.8, 1.3, 1.0, 1.2, 1.2, 0.9, 1.3, 1.3, 1.1, 1.5, 1.5, 1.8, 1.4, 1.2, 1.4,
    1.4, 1.5, 1.3, 1.7, 1.5, 1.6, 1.4, 1.5, 1.9, 1.3, 1.5, 1.3, 1.0, 1.5, 1.8, 1.4, 1.1, 1.4, 1.8, 1.5,
    1.3, 1.4, 1.5, 1.5, 1.5, 1.4, 1.3, 1.3, 1.2, 1.2, 1.1, 1.1, 1.0, 1.1, 1.2, 1.4, 1.6, 1.9, 2.0, 1.4,
    1.1, 0.9, 1.0, 1.0, 1.2, 1.5, 1.6, 2.2, 2.0, 1.4, 1.2, 0.9, 1.0, 1.4, 1.8, 2.0, 2.2, 2.4, 2.5, 2.5,
    2.4, 2.2, 2.3, 2.5, 2.1, 2.0, 2.3, 2.4, 2.2, 2.0, 2.3, 2.2, 2.1, 1.8, 1.9, 2.3, 2.6, 2.6, 3.1, 3.4,
    3.5, 2.5, 2.9, 2.0, 1.4, 1.6, 1.9, 2.1, 2.2, 2.0, 1.8, 1.9, 1.6, 1.9, 1.5, 1.8, 1.5, 1.6,
    1.6, 1.4, 1.7, 1.5, 1.1, 1.4, 1.8, 1.5, 1.2, 1.5, 1.3, 1.0, 1.3, 1.7, 2.1, 2.9, 2.2, 1.5, 1.5, 1.2, 1.5, 1.4,
    1.1, 1.3, 1.2, 1.5, 1.2, 1.4, 1.1, 1.3, 1.5, 1.2, 1.2, 1.0, 1.3, 1.2, 1.5, 1.1, 1.3, 1.4, 1.3, 2.8,
    2.6, 1.9, 1.4, 1.6, 1.5, 1.8, 1.6, 1.7, 1.5, 1.9, 1.7, 1.6, 2.1, 2.0, 2.7, 2.5, 2.0, 2.5, 2.8, 2.0,
    2.5, 3.0, 2.5, 2.1, 2.6, 1.9, 2.3, 2.9, 2.3, 1.6, 2.3, 2.8, 2.2, 2.3, 1.7, 2.0, 2.5, 2.0, 2.2, 2.1,
    2.4, 2.0, 2.1, 2.0, 2.4, 2.8, 2.3, 1.8, 2.6, 3.5, 4.1, 3.0, 2.1, 2.2, 1.5, 1.9, 1.7, 1.9, 2.8, 3.3,
    2.3, 1.6, 2.0, 1.7, 1.1, 1.6, 1.6, 1.9, 1.5, 1.7, 1.9, 1.6, 1.7, 2.0, 1.7, 1.4, 1.7, 2.3, 2.9, 3.6,
    2.8, 3.1, 3.6, 2.5, 1.6, 1.7, 2.2, 1.8, 1.4, 1.9, 1.2, 1.4, 2.0, 1.5, 1.6, 2.2, 1.7, 2.4, 2.2, 1.7,
    2.6, 2.5, 1.9, 2.0, 1.4, 1.6, 2.3, 2.2, 1.7, 1.8, 2.4, 2.3, 1.6, 1.6, 2.2, 2.7, 2.2, 1.7, 2.1, 1.9,
    2.0, 2.5, 1.9, 1.4, 1.8, 2.2, 1.9, 2.1, 1.6, 1.8, 2.3, 2.2, 1.7, 1.8, 2.5, 2.3, 1.7, 1.8, 1.7, 1.4,
    1.6, 2.1, 1.6, 1.8, 2.5, 2.0, 1.5, 1.9, 1.8, 1.3, 1.5, 1.9, 1.7, 2.1, 2.5, 2.1, 2.3, 2.8, 3.3, 3.3,
    3.6, 3.4, 2.8, 2.3, 1.8, 2.9, 2.8, 2.4, 1.9, 2.3, 1.8, 1.4, 1.9, 1.6, 1.4, 1.7, 1.5, 1.3, 1.8, 1.6,
    1.4, 1.7, 1.6, 2.2, 2.1, 1.6, 2.1, 2.5, 2.2, 1.9, 2.7, 2.6, 2.3, 2.4, 1.9, 1.6, 2.2, 1.8, 1.4, 1.6,
    2.2, 2.2, 1.7, 1.3, 1.7, 2.0, 1.8, 2.4, 2.3, 2.0, 1.6, 1.9, 1.7, 1.4, 1.7, 2.2, 1.8, 2.5, 2.2, 1.8,
    2.4, 2.9, 2.4, 1.8, 1.3, 1.6, 2.2, 2.0, 1.6, 2.0, 2.5, 2.3, 1.8, 1.9, 2.7, 2.4, 1.9, 2.1, 2.5, 2.1,
    2.4, 2.8, 3.3, 3.8, 3.5, 2.9, 2.3, 1.8, 2.2, 1.9, 1.4, 1.6, 2.1, 1.8, 1.9, 1.6, 2.0, 1.8, 2.7, 2.4,
    2.0, 1.6, 1.9, 1.7, 2.1, 1.9, 1.6, 1.9, 1.8, 2.2, 1.6, 1.7, 2.3, 2.0, 1.6, 1.3, 1.7, 2.1, 1.7, 1.8,
    2.0, 1.7, 1.2, 1.5, 2.2, 2.6, 2.3, 1.8, 1.9, 1.6, 2.2, 2.1, 1.8, 2.2, 2.7, 3.2, 2.6, 1.9, 2.0, 1.5,
    1.7, 2.2, 1.8, 2.0, 1.5, 1.7, 1.9, 1.6, 2.0, 1.7, 1.4, 1.8, 1.6, 1.6, 1.3, 1.1, 1.3, 1.2, 1.5, 1.4,
    1.5, 1.3, 1.7, 1.5, 1.7, 2.0, 1.8, 1.9, 2.2, 2.6, 2.3, 2.5, 2.9, 2.6, 2.8, 3.2, 2.9, 3.3, 3.9, 3.7,
    4.4, 3.9, 3.2, 2.7, 2.2, 2.8, 2.7, 2.4, 2.7, 2.3, 1.8, 2.2, 2.7, 2.3, 1.9, 1.5, 1.8, 2.2, 1.8, 1.6,
    1.9, 2.4, 2.2, 1.8, 1.5, 1.8, 1.6, 2.0, 1.8, 1.5, 1.7, 2.0, 2.4, 1.8, 1.4, 2.1, 1.9, 1.5, 2.3, 2.0,
    1.8, 2.6, 3.1, 3.3, 3.0, 2.8, 2.5, 2.7, 2.4, 2.1, 1.9, 1.6, 1.4, 1.6, 1.9, 2.3, 2.6, 2.8, 2.5, 2.2,
    2.0, 1.8, 1.8, 1.7, 1.7, 1.6, 1.6, 1.5, 1.3, 1.3, 1.2, 1.0, 1.9, 2.4, 2.8, 2.6, 2.2, 1.8, 1.5, 1.3,
    1.5, 1.6, 1.7, 1.7, 1.6, 1.6, 1.5, 1.4, 1.4, 1.5, 1.7, 1.9, 2.1, 1.9, 2.2, 1.7, 1.6, 1.8, 1.7, 1.6,
    1.9, 2.6, 2.6, 3.2, 3.2, 3.6, 4.0, 4.3, 4.5, 4.6, 4.0, 3.2, 2.5, 2.0, 1.9, 1.9, 2.0, 1.9,
    1.7, 1.8, 1.7, 1.5, 1.7, 1.5, 1.8, 1.5, 1.6, 1.5, 1.7, 1.5, 1.3, 1.5, 1.9, 1.6, 1.7, 2.2, 2.8, 2.3, 1.6, 1.5,
    2.0, 1.8, 1.5, 1.8, 2.5, 2.0, 1.5, 2.1, 3.2, 4.3, 4.3, 3.2, 2.2, 1.6, 1.2, 1.0, 1.6, 2.3, 2.1, 2.2,
    1.8, 1.8, 2.4, 2.3, 2.7, 2.6, 3.2, 4.1, 4.8, 3.7, 2.4, 1.6, 1.0, 1.1, 1.6, 2.1, 1.8, 2.0, 2.4, 2.3,
    2.6, 2.5, 2.0, 1.7, 1.8, 1.7, 1.5, 1.7, 1.6, 1.4, 1.6, 1.5, 1.7, 1.5, 1.6, 1.8, 1.6, 1.4, 1.6, 1.5,
    1.7, 1.5, 1.6, 1.9, 1.7, 1.4, 1.6, 1.5, 1.8, 1.7, 2.1, 2.6, 2.4, 1.8, 1.8, 1.6,
]

series = [
    ("Actual wind speed", actual_speed, "black"),
    ("NAR", nar, "#ff0000"),
    ("EMD-NAR", emd_nar, "#00ff00"),
    ("EEMD-NAR", eemd_nar, "#ff00ff"),
    ("CEEMDAN-NAR", ceemdan_nar, "#0000ff"),
    ("ICEEMDAN-NAR", iceemdan_nar, "#00ffff"),
]

# zoom windows: (x range, y range)
zoom_a = ((4500, 4577), (0.42, 5.8))
zoom_b = ((5000, 5077), (0.56, 5.93))


def px(x0, y0, w, h):
    """pixel box (left, top, width, height) -> figure fraction rect"""
    return [x0 / W, 1 - (y0 + h) / H, w / W, h / H]


fig = plt.figure(figsize=(W / 100, H / 100), dpi=100)
ax = fig.add_axes(px(54, 13, 756, 384))

for label, vals, color in series:
    t = np.arange(START, START + len(vals))
    ax.plot(t, vals, color=color, lw=1.2, label=label)

ax.set_xlim(4400, 5173.7)
ax.set_ylim(0, 18)
ax.set_xticks(np.arange(4400, 5101, 100))
ax.set_yticks(np.arange(0, 19, 2))
ax.tick_params(direction="in", top=True, right=True, length=5, width=0.8,
               labelsize=12.5)
ax.tick_params(axis="x", pad=7)
ax.tick_params(axis="y", pad=5)
for sp in ax.spines.values():
    sp.set_linewidth(0.8)
ax.set_xlabel("Time (10 hours)", fontsize=14, labelpad=1)
ax.set_ylabel("Wind speed (m/s)", fontsize=14, labelpad=2)

leg = ax.legend(loc="upper right", bbox_to_anchor=(806 / W, 1 - 13 / H),
                bbox_transform=fig.transFigure, fontsize=11.5, frameon=True,
                fancybox=False, edgecolor="#555555", framealpha=1,
                borderpad=0.2, labelspacing=0.1, handlelength=1.2,
                handletextpad=0.1, borderaxespad=0)
leg.get_frame().set_linewidth(0.8)

# boxes marking the zoomed windows
for (x0, x1), (y0, y1) in (zoom_a, zoom_b):
    ax.add_patch(Rectangle((x0, y0), x1 - x0, y1 - y0, fill=False,
                           ec="black", lw=0.9, zorder=5))

# leader lines from boxes to insets
fig.add_artist(Line2D([223 / W, 190 / W], [1 - 197 / H, 1 - 273 / H],
                      color="black", lw=0.8))
fig.add_artist(Line2D([616 / W, 679 / W], [1 - 113 / H, 1 - 270 / H],
                      color="black", lw=0.8))

# insets
for rect, ((x0, x1), (y0, y1)) in ((px(108, 56, 227, 115), zoom_a),
                                   (px(388, 57, 227, 114), zoom_b)):
    axin = fig.add_axes(rect)
    for label, vals, color in series:
        t = np.arange(START, START + len(vals))
        axin.plot(t, vals, color=color, lw=1.1)
    axin.set_xlim(x0, x1)
    axin.set_ylim(y0, y1)
    axin.set_xticks(np.arange(x0, x1, 20))
    axin.set_yticks([1, 2, 3, 4, 5])
    axin.tick_params(direction="in", top=True, right=True, length=3.5,
                     width=0.8, labelsize=12.5)
    axin.tick_params(axis="x", pad=5)
    axin.tick_params(axis="y", pad=3)
    for sp in axin.spines.values():
        sp.set_linewidth(0.8)

# watermark
fig.text(395 / W, 1 - 190 / H, "Sample", fontsize=220, rotation=60,
         color="#c8c8c8", alpha=0.7, ha="center", va="center", zorder=20,
         family="Liberation Serif")

fig.savefig("out.png", dpi=100)
